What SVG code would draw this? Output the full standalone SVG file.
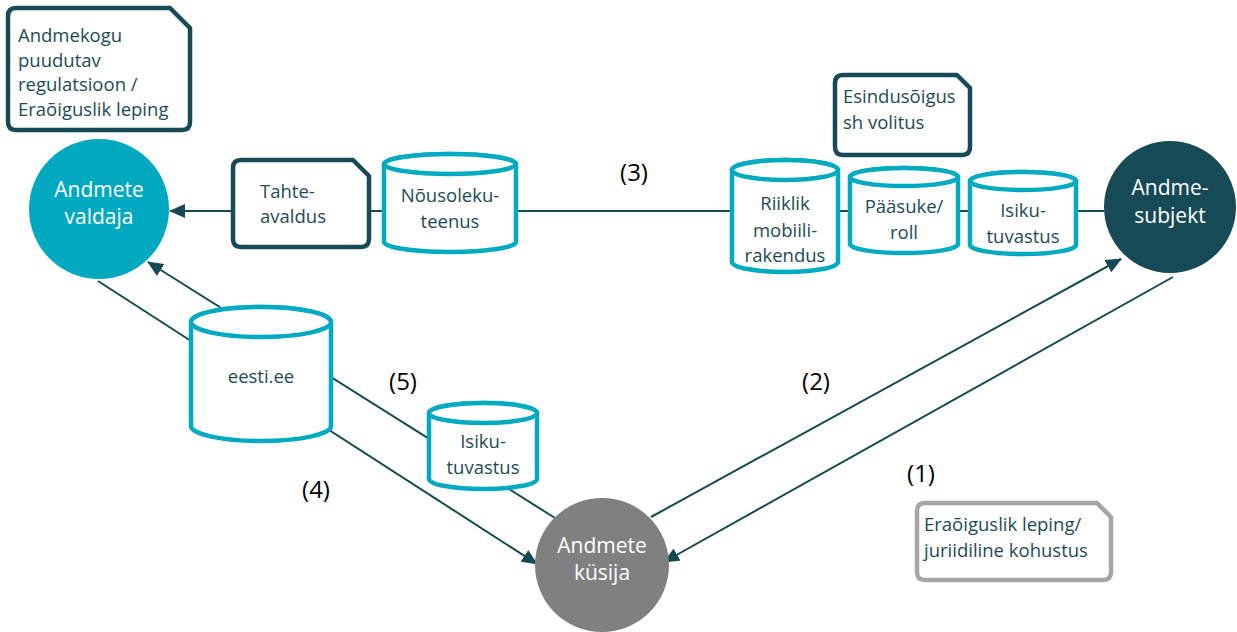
<svg xmlns="http://www.w3.org/2000/svg" width="1237" height="632" viewBox="0 0 1237 632">
  <style>
    .conn { stroke: #174955; stroke-width: 2; fill: none; }
    .cyl { fill: #ffffff; stroke: #00abc1; stroke-width: 4.5; stroke-linejoin: round; }
    .doc { fill: #ffffff; stroke: #174a56; stroke-width: 4.5; stroke-linejoin: round; }
    .doc-grey { fill: #ffffff; stroke: #a6a6a6; stroke-width: 4.5; stroke-linejoin: round; }
    .t { font-family: "Open Sans", "Noto Sans", sans-serif; font-size: 18.5px; fill: #1d4b57; }
    .c { text-anchor: middle; }
    .w { font-family: "Open Sans", "Noto Sans", sans-serif; font-size: 21px; fill: #ffffff; text-anchor: middle; }
    .lbl { font-family: "Open Sans", "Noto Sans", sans-serif; font-size: 24px; fill: #000000; text-anchor: middle; }
  </style>
  <defs>
    <marker id="arrow" markerUnits="userSpaceOnUse" markerWidth="16" markerHeight="14" refX="15" refY="7" orient="auto">
      <path d="M0,0 L16,7 L0,14 Z" fill="#174955"/>
    </marker>
  </defs>

  <rect width="1237" height="632" fill="#ffffff"/>

  <!-- connectors -->
  <g id="connectors">
    <!-- (3) consent chain -->
    <line class="conn" x1="1104" y1="211" x2="170" y2="211" marker-end="url(#arrow)"/>
    <!-- (5) requester to holder via eesti.ee -->
    <line class="conn" x1="555" y1="518" x2="148" y2="262" marker-end="url(#arrow)"/>
    <!-- (4) holder to requester -->
    <line class="conn" x1="98" y1="281" x2="537" y2="564" marker-end="url(#arrow)"/>
    <!-- (2) requester to subject -->
    <line class="conn" x1="651" y1="517" x2="1121" y2="259" marker-end="url(#arrow)"/>
    <!-- (1) subject to requester -->
    <line class="conn" x1="1173" y1="277" x2="664" y2="562" marker-end="url(#arrow)"/>
    <text class="lbl" x="634" y="181">(3)</text>
    <text class="lbl" x="816" y="390">(2)</text>
    <text class="lbl" x="921" y="482">(1)</text>
    <text class="lbl" x="403" y="390">(5)</text>
    <text class="lbl" x="316" y="498">(4)</text>
  </g>

  <!-- document boxes -->
  <g id="regulatsioon">
    <path class="doc" d="M16,8 L170,8 L190,28 L190,122 Q190,130 182,130 L16,130 Q8,130 8,122 L8,16 Q8,8 16,8 Z"/>
    <text class="t" x="18" y="42">Andmekogu</text>
    <text class="t" x="18" y="66.5">puudutav</text>
    <text class="t" x="18" y="91">regulatsioon /</text>
    <text class="t" x="18" y="115.5">Eraõiguslik leping</text>
  </g>

  <g id="tahteavaldus">
    <path class="doc" d="M241,160 L353,160 L369,176 L369,239 Q369,247 361,247 L241,247 Q233,247 233,239 L233,168 Q233,160 241,160 Z"/>
    <text class="t" x="260" y="198">Tahte-</text>
    <text class="t" x="260" y="223">avaldus</text>
  </g>

  <g id="esindusoigus">
    <path class="doc" d="M843,75 L957,75 L970,88 L970,147 Q970,155 962,155 L843,155 Q835,155 835,147 L835,83 Q835,75 843,75 Z"/>
    <text class="t" x="843" y="103">Esindusõigus</text>
    <text class="t" x="843" y="129">sh volitus</text>
  </g>

  <g id="eraoiguslik">
    <path class="doc-grey" d="M925,503 L1097,503 L1111,517 L1111,572 Q1111,580 1103,580 L925,580 Q917,580 917,572 L917,511 Q917,503 925,503 Z"/>
    <text class="t" x="924" y="531">Eraõiguslik leping/</text>
    <text class="t" x="924" y="557">juriidiline kohustus</text>
  </g>

  <!-- service cylinders -->
  <g id="nousolekuteenus">
    <path class="cyl" d="M384,164 L384,242 A66,10 0 0 0 516,242 L516,164 A66,10 0 0 0 384,164 Z"/>
    <ellipse class="cyl" cx="450" cy="164" rx="66" ry="10"/>
    <text class="t c" x="450" y="202">Nõusoleku-</text>
    <text class="t c" x="450" y="228">teenus</text>
  </g>

  <g id="mobiilirakendus">
    <path class="cyl" d="M732,170 L732,262 A53,10 0 0 0 838,262 L838,170 A53,10 0 0 0 732,170 Z"/>
    <ellipse class="cyl" cx="785" cy="170" rx="53" ry="10"/>
    <text class="t c" x="785" y="210">Riiklik</text>
    <text class="t c" x="785" y="237">mobiili-</text>
    <text class="t c" x="785" y="262">rakendus</text>
  </g>

  <g id="paasuke">
    <path class="cyl" d="M850,177 L850,244 A54,9 0 0 0 958,244 L958,177 A54,9 0 0 0 850,177 Z"/>
    <ellipse class="cyl" cx="904" cy="177" rx="54" ry="9"/>
    <text class="t c" x="904" y="213">Pääsuke/</text>
    <text class="t c" x="904" y="239">roll</text>
  </g>

  <g id="isikutuvastus-subjekt">
    <path class="cyl" d="M970,181 L970,245 A53,9 0 0 0 1076,245 L1076,181 A53,9 0 0 0 970,181 Z"/>
    <ellipse class="cyl" cx="1023" cy="181" rx="53" ry="9"/>
    <text class="t c" x="1023" y="217">Isiku-</text>
    <text class="t c" x="1023" y="243">tuvastus</text>
  </g>

  <g id="eesti-ee">
    <path class="cyl" d="M191,322 L191,426 A70,15 0 0 0 331,426 L331,322 A70,15 0 0 0 191,322 Z"/>
    <ellipse class="cyl" cx="261" cy="322" rx="70" ry="15"/>
    <text class="t c" x="261" y="383">eesti.ee</text>
  </g>

  <g id="isikutuvastus-kusija">
    <path class="cyl" d="M429,413 L429,479 A54,10 0 0 0 537,479 L537,413 A54,10 0 0 0 429,413 Z"/>
    <ellipse class="cyl" cx="483" cy="413" rx="54" ry="10"/>
    <text class="t c" x="483" y="448">Isiku-</text>
    <text class="t c" x="483" y="474">tuvastus</text>
  </g>

  <!-- actors -->
  <g id="andmete-valdaja">
    <circle cx="99" cy="209" r="70" fill="#00a9bf"/>
    <text class="w" x="99" y="197">Andmete</text>
    <text class="w" x="99" y="224">valdaja</text>
  </g>

  <g id="andmesubjekt">
    <circle cx="1170" cy="207" r="66" fill="#164a56"/>
    <text class="w" x="1170" y="195">Andme-</text>
    <text class="w" x="1170" y="223">subjekt</text>
  </g>

  <g id="andmete-kusija">
    <circle cx="602" cy="565" r="67" fill="#808080"/>
    <text class="w" x="602" y="553">Andmete</text>
    <text class="w" x="602" y="580">küsija</text>
  </g>
</svg>
